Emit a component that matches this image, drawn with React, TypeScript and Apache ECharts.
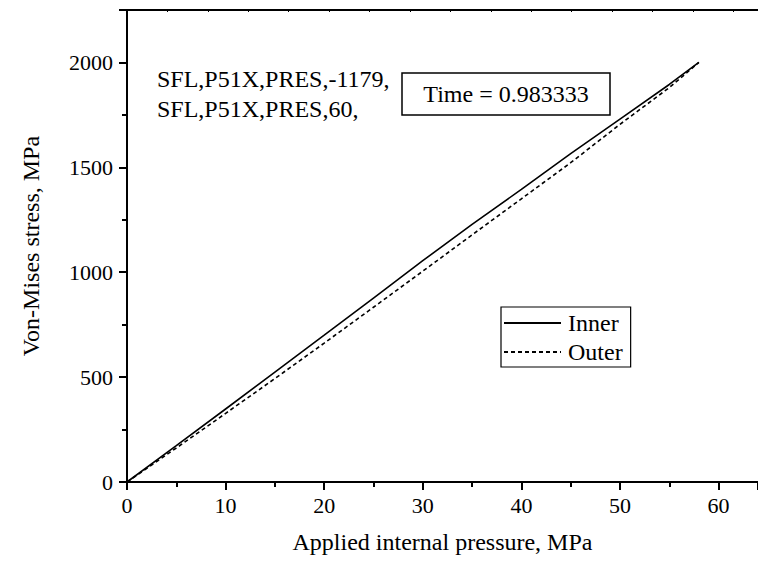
import React, { useEffect, useRef } from "react";
import * as echarts from "echarts";

const pressure = [0, 5, 10, 15, 20, 25, 30, 35, 40, 45, 50, 55, 58];
const innerStress = [0, 173, 348, 524, 700, 877, 1055, 1228, 1395, 1565, 1730, 1895, 2000];
const outerStress = [0, 162, 327, 493, 662, 833, 1005, 1178, 1350, 1522, 1705, 1880, 2000];
const seriesNames = ["Inner", "Outer"];
const noteLines = ["SFL,P51X,PRES,-1179,", "SFL,P51X,PRES,60,"];
const timeNote = "Time = 0.983333";
const xTitle = "Applied internal pressure, MPa";
const yTitle = "Von-Mises stress, MPa";

const FONT = "Liberation Serif, Times New Roman, Times, serif";

export default function App() {
  const ref = useRef<HTMLDivElement>(null);
  useEffect(() => {
    if (!ref.current) return;
    const chart = echarts.init(ref.current, null, { renderer: "svg" });
    const pairs = (ys: number[]) => pressure.map((x, i) => [x, ys[i]]);
    chart.setOption({
      animation: false,
      backgroundColor: "#ffffff",
      textStyle: { fontFamily: FONT, color: "#000" },
      grid: { left: 127, right: 0, top: 10, bottom: 82, containLabel: false },
      legend: {
        data: seriesNames,
        orient: "vertical",
        left: 501,
        top: 307,
        itemWidth: 57,
        itemHeight: 2,
        itemGap: 5,
        padding: [4, 8, 3, 2],
        borderColor: "#000",
        borderWidth: 1.2,
        borderRadius: 0,
        itemStyle: { opacity: 0 },
        textStyle: { fontFamily: FONT, fontSize: 24, color: "#000", padding: [0, 0, 0, 2] },
      },
      xAxis: [
        {
          type: "value",
          position: "bottom",
          min: 0,
          max: 64,
          interval: 10,
          name: xTitle,
          nameLocation: "middle",
          nameGap: 48,
          nameTextStyle: { fontFamily: FONT, fontSize: 24, color: "#000" },
          axisLine: { show: true, onZero: false, lineStyle: { color: "#000", width: 2 } },
          axisTick: { show: true, inside: false, length: 8, lineStyle: { color: "#000", width: 2 } },
          minorTick: { show: true, splitNumber: 2, length: 5, lineStyle: { color: "#000", width: 2 } },
          axisLabel: {
            fontFamily: FONT,
            fontSize: 22,
            color: "#000",
            margin: 12,
            showMaxLabel: false,
            formatter: (v: number) => (v % 10 === 0 ? String(v) : ""),
          },
          splitLine: { show: false },
        },
        {
          type: "value",
          position: "top",
          min: 0,
          max: 64,
          interval: 4.1,
          axisLine: { show: true, onZero: false, lineStyle: { color: "#000", width: 2 } },
          axisTick: { show: true, inside: true, length: 2, lineStyle: { color: "#000", width: 1 } },
          axisLabel: { show: false },
          splitLine: { show: false },
        },
      ],
      yAxis: {
        type: "value",
        min: 0,
        max: 2250,
        interval: 500,
        name: yTitle,
        nameLocation: "middle",
        nameGap: 84,
        nameRotate: 90,
        nameTextStyle: { fontFamily: FONT, fontSize: 24, color: "#000" },
        axisLine: { show: true, onZero: false, lineStyle: { color: "#000", width: 2 } },
        axisTick: { show: true, inside: false, length: 8, lineStyle: { color: "#000", width: 2 } },
        minorTick: { show: true, splitNumber: 2, length: 5, lineStyle: { color: "#000", width: 2 } },
        axisLabel: {
          fontFamily: FONT,
          fontSize: 22,
          color: "#000",
          margin: 14,
          showMaxLabel: false,
          formatter: (v: number) => (v % 500 === 0 ? String(v) : ""),
        },
        splitLine: { show: false },
      },
      series: [
        {
          name: seriesNames[0],
          type: "line",
          xAxisIndex: 0,
          data: pairs(innerStress),
          showSymbol: false,
          symbol: "none",
          lineStyle: { color: "#000", width: 1.6, type: "solid" },
          itemStyle: { color: "#000" },
        },
        {
          name: seriesNames[1],
          type: "line",
          xAxisIndex: 0,
          data: pairs(outerStress),
          showSymbol: false,
          symbol: "none",
          lineStyle: { color: "#000", width: 1.6, type: [4, 3] },
          itemStyle: { color: "#000" },
        },
      ],
      graphic: [
        {
          type: "text",
          left: 157,
          top: 67,
          style: { text: noteLines[0], font: `24px ${FONT}`, fill: "#000" },
        },
        {
          type: "text",
          left: 157,
          top: 97,
          style: { text: noteLines[1], font: `24px ${FONT}`, fill: "#000" },
        },
        {
          type: "rect",
          shape: { x: 402, y: 73, width: 208, height: 42 },
          style: { fill: "#fff", stroke: "#000", lineWidth: 1.5 },
        },
        {
          type: "text",
          x: 506,
          y: 94,
          style: {
            text: timeNote,
            font: `24px ${FONT}`,
            fill: "#000",
            textAlign: "center",
            textVerticalAlign: "middle",
          },
        },
      ],
    });
    return () => chart.dispose();
  }, []);
  return (
    <div
      ref={ref}
      style={{ position: "absolute", left: 0, top: 0, width: 758, height: 564 }}
    />
  );
}
